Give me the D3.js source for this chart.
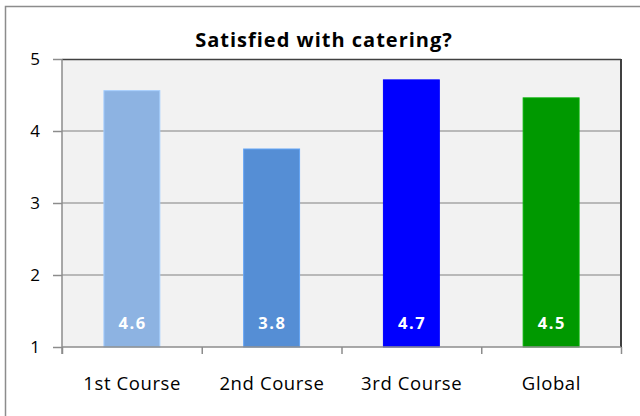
<!DOCTYPE html>
<html><head><meta charset="utf-8">
<script src="https://cdn.jsdelivr.net/npm/d3@7"></script>
<style>body{margin:0;background:#fff}svg{display:block}</style>
</head><body>
<svg id="chart" width="640" height="416"></svg>
<script>
const categories = ["1st Course", "2nd Course", "3rd Course", "Global"];
const values = [4.56, 3.75, 4.71, 4.46];
const valueLabels = ["4.6", "3.8", "4.7", "4.5"];
const colors = ["#8db3e2", "#558ed5", "#0000ff", "#009900"];
const yTicks = [1, 2, 3, 4, 5];
const title = "Satisfied with catering?";

const svg = d3.select("#chart");
const font = "'Open Sans', sans-serif";
// outer chart border
svg.append("rect").attr("x", 5.5).attr("y", 6.5).attr("width", 700).attr("height", 500)
  .attr("fill", "#fff").attr("stroke", "#8c8c8c").attr("stroke-width", 1.5);

const m = {left: 62, right: 621, top: 59, bottom: 347};
const x = d3.scaleBand().domain(categories).range([m.left, m.right]).paddingInner(0.6).paddingOuter(0.3);
const xEdges = d3.scaleLinear().domain([0, categories.length]).range([m.left, m.right]);
const y = d3.scaleLinear().domain([1, 5]).range([m.bottom, m.top]);

svg.append("rect").attr("x", m.left).attr("y", m.top).attr("width", m.right - m.left).attr("height", m.bottom - m.top)
  .attr("fill", "#f2f2f2");

// gridlines
svg.append("g").selectAll("line").data(yTicks.filter(t => t > 1 && t < 5)).join("line")
  .attr("x1", m.left).attr("x2", m.right).attr("y1", d => y(d)).attr("y2", d => y(d))
  .attr("stroke", "#a6a6a6").attr("stroke-width", 1.5);

// bars
svg.append("g").selectAll("rect").data(values).join("rect")
  .attr("x", (d, i) => x(categories[i])).attr("width", x.bandwidth())
  .attr("y", d => y(d)).attr("height", d => y(1) - y(d))
  .attr("fill", (d, i) => colors[i])
  .attr("stroke", (d, i) => d3.color(colors[i]).brighter(0.4)).attr("stroke-width", 1);

// value labels
const vls = 1.5;
svg.append("g").selectAll("text").data(valueLabels).join("text")
  .attr("x", (d, i) => x(categories[i]) + x.bandwidth() / 2 + vls / 2).attr("y", 329)
  .attr("text-anchor", "middle").attr("fill", "#fff").attr("font-family", font)
  .attr("font-weight", "bold").attr("font-size", 16.5).attr("letter-spacing", vls).text(d => d);

// plot border top & right
svg.append("line").attr("x1", m.left).attr("x2", m.right).attr("y1", m.top + 0.5).attr("y2", m.top + 0.5)
  .attr("stroke", "#404040").attr("stroke-width", 1.5);
svg.append("line").attr("x1", m.right).attr("x2", m.right).attr("y1", m.top).attr("y2", m.bottom)
  .attr("stroke", "#404040").attr("stroke-width", 2);

// y axis
const yAxis = svg.append("g").attr("transform", `translate(${m.left},0)`)
  .call(d3.axisLeft(y).tickValues(yTicks).tickSize(9).tickPadding(13).tickFormat(d3.format("d")));
yAxis.select(".domain").attr("stroke", "#8c8c8c").attr("stroke-width", 1.5).attr("d", `M0,${m.top}V${m.bottom + 7}`);
yAxis.selectAll(".tick line").attr("stroke", "#8c8c8c").attr("stroke-width", 1.5);
yAxis.selectAll(".tick text").attr("font-family", font).attr("font-size", 17).attr("fill", "#000");

// x axis
const xAxis = svg.append("g").attr("transform", `translate(0,${m.bottom})`)
  .call(d3.axisBottom(xEdges).tickValues(d3.range(categories.length + 1)).tickSize(7).tickFormat(""));
xAxis.select(".domain").attr("stroke", "#8c8c8c").attr("stroke-width", 1.5).attr("d", `M${m.left},0H${m.right}`);
xAxis.selectAll(".tick line").attr("stroke", "#8c8c8c").attr("stroke-width", 1.5);

const cls = 0.6;
svg.append("g").selectAll("text").data(categories).join("text")
  .attr("x", d => x(d) + x.bandwidth() / 2 + cls / 2).attr("y", 390)
  .attr("text-anchor", "middle").attr("font-family", font).attr("font-size", 18.5)
  .attr("letter-spacing", cls).attr("fill", "#000")
  .text(d => d);

svg.append("text").attr("x", 324).attr("y", 47).attr("text-anchor", "middle")
  .attr("font-family", font).attr("font-weight", "bold").attr("font-size", 20)
  .attr("letter-spacing", 1).attr("fill", "#000").text(title);
</script>
</body></html>
